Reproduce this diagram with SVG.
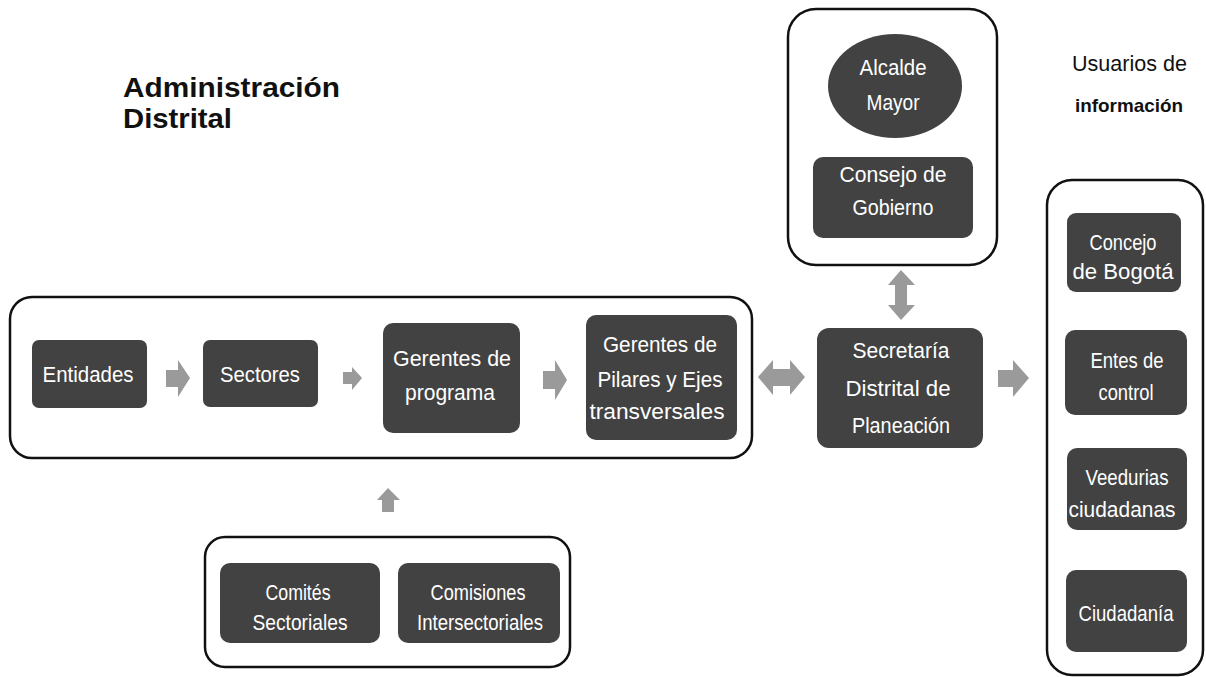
<svg xmlns="http://www.w3.org/2000/svg" width="1206" height="677" viewBox="0 0 1206 677">
<style>
.bg{fill:#ffffff}
.frame{fill:none;stroke:#111;stroke-width:2.5}
.box{fill:#424242}
.arr{fill:#9a9a9a}
.bt{fill:#ffffff;font-family:"Liberation Sans",Arial,sans-serif;font-size:22px;text-anchor:middle}
.title{fill:#111;font-family:"Liberation Sans",Arial,sans-serif;font-size:28px;font-weight:bold}
.lab{fill:#111;font-family:"Liberation Sans",Arial,sans-serif}
</style>
<rect class="bg" x="0" y="0" width="1206" height="677"/>

<g id="title">
<text class="title" x="123" y="97" textLength="217" lengthAdjust="spacingAndGlyphs">Administración</text>
<text class="title" x="123" y="128" textLength="109" lengthAdjust="spacingAndGlyphs">Distrital</text>
</g>

<g id="usuarios-label">
<text class="lab" x="1072" y="71" font-size="22" textLength="115" lengthAdjust="spacingAndGlyphs">Usuarios de</text>
<text class="lab" x="1075" y="112" font-size="18.5" font-weight="bold" textLength="108" lengthAdjust="spacingAndGlyphs">información</text>
</g>

<g id="containers">
<rect id="admin-container" class="frame" x="10" y="297" width="742" height="161" rx="22"/>
<rect id="alcaldia-container" class="frame" x="788" y="9" width="209" height="256" rx="28"/>
<rect id="usuarios-container" class="frame" x="1047" y="180" width="156" height="495" rx="25"/>
<rect id="comites-container" class="frame" x="205" y="537" width="365" height="130" rx="20"/>
</g>

<g id="entidades">
<rect class="box" x="32" y="340" width="115" height="68" rx="7"/>
<text class="bt" x="88" y="382" font-size="23" textLength="91" lengthAdjust="spacingAndGlyphs">Entidades</text>
</g>

<g id="sectores">
<rect class="box" x="203" y="340" width="115" height="67" rx="7"/>
<text class="bt" x="260" y="382" font-size="23" textLength="80" lengthAdjust="spacingAndGlyphs">Sectores</text>
</g>

<g id="gerentes-programa">
<rect class="box" x="383" y="323" width="137" height="110" rx="10"/>
<text class="bt" x="452" y="366" textLength="118" lengthAdjust="spacingAndGlyphs">Gerentes de</text>
<text class="bt" x="450" y="400" textLength="90" lengthAdjust="spacingAndGlyphs">programa</text>
</g>

<g id="gerentes-pilares">
<rect class="box" x="586" y="315" width="151" height="125" rx="10"/>
<text class="bt" x="660" y="352" textLength="114" lengthAdjust="spacingAndGlyphs">Gerentes de</text>
<text class="bt" x="660" y="387" textLength="125" lengthAdjust="spacingAndGlyphs">Pilares y Ejes</text>
<text class="bt" x="657" y="419" textLength="135" lengthAdjust="spacingAndGlyphs">transversales</text>
</g>

<g id="secretaria">
<rect class="box" x="817" y="328" width="166" height="120" rx="12"/>
<text class="bt" x="901" y="358" textLength="97" lengthAdjust="spacingAndGlyphs">Secretaría</text>
<text class="bt" x="898" y="396" textLength="105" lengthAdjust="spacingAndGlyphs">Distrital de</text>
<text class="bt" x="901" y="433" textLength="98" lengthAdjust="spacingAndGlyphs">Planeación</text>
</g>

<g id="alcalde">
<ellipse class="box" cx="895" cy="86" rx="67" ry="52"/>
<text class="bt" x="893" y="75" textLength="67" lengthAdjust="spacingAndGlyphs">Alcalde</text>
<text class="bt" x="893" y="110" textLength="53" lengthAdjust="spacingAndGlyphs">Mayor</text>
</g>

<g id="consejo-gobierno">
<rect class="box" x="813" y="157" width="160" height="81" rx="10"/>
<text class="bt" x="893" y="182" textLength="107" lengthAdjust="spacingAndGlyphs">Consejo de</text>
<text class="bt" x="893" y="215" textLength="81" lengthAdjust="spacingAndGlyphs">Gobierno</text>
</g>

<g id="concejo-bogota">
<rect class="box" x="1067" y="213" width="114" height="79" rx="9"/>
<text class="bt" x="1123" y="250" textLength="67" lengthAdjust="spacingAndGlyphs">Concejo</text>
<text class="bt" x="1123" y="279" textLength="101" lengthAdjust="spacingAndGlyphs">de Bogotá</text>
</g>

<g id="entes-control">
<rect class="box" x="1065" y="330" width="122" height="85" rx="10"/>
<text class="bt" x="1127" y="368" textLength="73" lengthAdjust="spacingAndGlyphs">Entes de</text>
<text class="bt" x="1126" y="400" textLength="55" lengthAdjust="spacingAndGlyphs">control</text>
</g>

<g id="veedurias">
<rect class="box" x="1067" y="448" width="120" height="82" rx="10"/>
<text class="bt" x="1127" y="485" textLength="83" lengthAdjust="spacingAndGlyphs">Veedurias</text>
<text class="bt" x="1122" y="517" textLength="107" lengthAdjust="spacingAndGlyphs">ciudadanas</text>
</g>

<g id="ciudadania">
<rect class="box" x="1066" y="570" width="121" height="82" rx="10"/>
<text class="bt" x="1126" y="621" textLength="95" lengthAdjust="spacingAndGlyphs">Ciudadanía</text>
</g>

<g id="comites-sectoriales">
<rect class="box" x="220" y="563" width="160" height="80" rx="10"/>
<text class="bt" x="298" y="600" textLength="65" lengthAdjust="spacingAndGlyphs">Comités</text>
<text class="bt" x="300" y="630" textLength="95" lengthAdjust="spacingAndGlyphs">Sectoriales</text>
</g>

<g id="comisiones-intersectoriales">
<rect class="box" x="398" y="563" width="162" height="80" rx="10"/>
<text class="bt" x="478" y="600" textLength="95" lengthAdjust="spacingAndGlyphs">Comisiones</text>
<text class="bt" x="480" y="630" textLength="126" lengthAdjust="spacingAndGlyphs">Intersectoriales</text>
</g>

<g id="connectors">
<polygon class="arr" points="166,370 178,370 178,360 190,378 178,397 178,387 166,387"/>
<polygon class="arr" points="343,372 352,372 352,367 362,378 352,390 352,384 343,384"/>
<polygon class="arr" points="543,371 555,371 555,360 567,380 555,400 555,389 543,389"/>
<polygon class="arr" points="758,377 773,360 773,369 790,369 790,360 805,377 790,395 790,386 773,386 773,395"/>
<polygon class="arr" points="998,370 1013,370 1013,360 1029,378 1013,397 1013,387 998,387"/>
<polygon class="arr" points="901,270 915,285 907,285 907,305 915,305 901,320 888,305 895,305 895,285 888,285"/>
<polygon class="arr" points="388,488 400,500 394,500 394,512 382,512 382,500 377,500"/>
</g>
</svg>
